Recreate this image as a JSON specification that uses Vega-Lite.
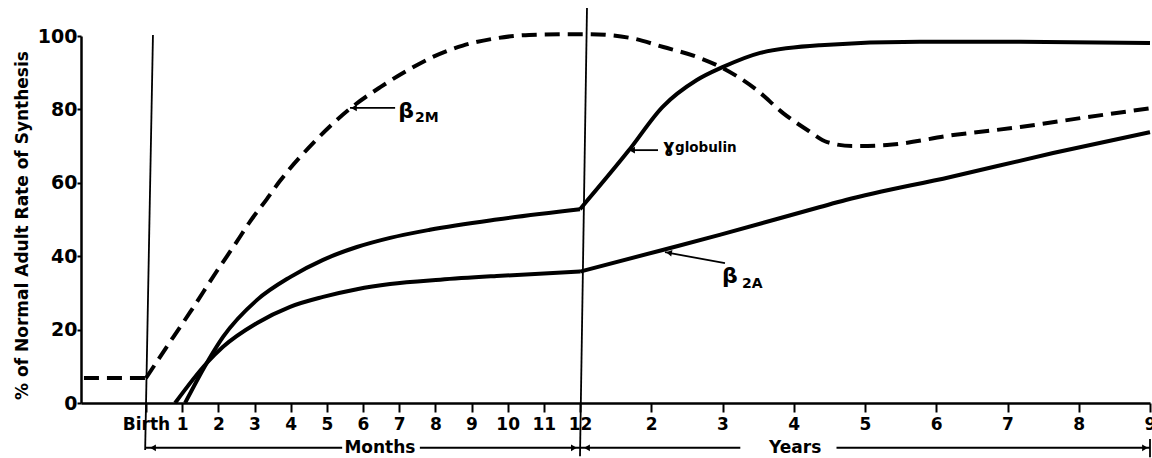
{
  "$schema": "https://vega.github.io/schema/vega-lite/v6.json",
  "width": 1071,
  "height": 367,
  "autosize": "none",
  "padding": {"left": 81, "top": 36, "right": 0, "bottom": 55},
  "background": "white",
  "config": {"view": {"stroke": null}},
  "datasets": {
    "curves": [
      {"series": "β2M", "part": "prenatal", "age": -0.143, "pct": 6.8},
      {"series": "β2M", "part": "prenatal", "age": 0, "pct": 6.8},
      {"series": "β2M", "part": "postnatal", "age": 0, "pct": 6.8},
      {"series": "β2M", "part": "postnatal", "age": 0.0625, "pct": 17.9},
      {"series": "β2M", "part": "postnatal", "age": 0.102, "pct": 24.8},
      {"series": "β2M", "part": "postnatal", "age": 0.163, "pct": 35.9},
      {"series": "β2M", "part": "postnatal", "age": 0.21, "pct": 44.1},
      {"series": "β2M", "part": "postnatal", "age": 0.24, "pct": 49.5},
      {"series": "β2M", "part": "postnatal", "age": 0.278, "pct": 55.5},
      {"series": "β2M", "part": "postnatal", "age": 0.308, "pct": 60.4},
      {"series": "β2M", "part": "postnatal", "age": 0.385, "pct": 70.8},
      {"series": "β2M", "part": "postnatal", "age": 0.47, "pct": 80.2},
      {"series": "β2M", "part": "postnatal", "age": 0.539, "pct": 86.0},
      {"series": "β2M", "part": "postnatal", "age": 0.602, "pct": 90.6},
      {"series": "β2M", "part": "postnatal", "age": 0.661, "pct": 94.3},
      {"series": "β2M", "part": "postnatal", "age": 0.73, "pct": 97.4},
      {"series": "β2M", "part": "postnatal", "age": 0.808, "pct": 99.4},
      {"series": "β2M", "part": "postnatal", "age": 0.883, "pct": 100.3},
      {"series": "β2M", "part": "postnatal", "age": 0.975, "pct": 100.5},
      {"series": "β2M", "part": "postnatal", "age": 1.1, "pct": 100.5},
      {"series": "β2M", "part": "postnatal", "age": 1.7, "pct": 99.5},
      {"series": "β2M", "part": "postnatal", "age": 2.17, "pct": 97},
      {"series": "β2M", "part": "postnatal", "age": 2.64, "pct": 94.3},
      {"series": "β2M", "part": "postnatal", "age": 3.0, "pct": 91.3},
      {"series": "β2M", "part": "postnatal", "age": 3.48, "pct": 85.3},
      {"series": "β2M", "part": "postnatal", "age": 3.85, "pct": 79},
      {"series": "β2M", "part": "postnatal", "age": 4.19, "pct": 74.4},
      {"series": "β2M", "part": "postnatal", "age": 4.47, "pct": 71.1},
      {"series": "β2M", "part": "postnatal", "age": 4.83, "pct": 70.0},
      {"series": "β2M", "part": "postnatal", "age": 5.31, "pct": 70.3},
      {"series": "β2M", "part": "postnatal", "age": 6.24, "pct": 73},
      {"series": "β2M", "part": "postnatal", "age": 7.18, "pct": 75.2},
      {"series": "β2M", "part": "postnatal", "age": 8.12, "pct": 77.9},
      {"series": "β2M", "part": "postnatal", "age": 9.0, "pct": 80.3},

      {"series": "γ globulin", "part": "first year", "age": 0.09, "pct": 0},
      {"series": "γ globulin", "part": "first year", "age": 0.14, "pct": 10.9},
      {"series": "γ globulin", "part": "first year", "age": 0.1775, "pct": 18},
      {"series": "γ globulin", "part": "first year", "age": 0.256, "pct": 28.1},
      {"series": "γ globulin", "part": "first year", "age": 0.332, "pct": 34.3},
      {"series": "γ globulin", "part": "first year", "age": 0.408, "pct": 39},
      {"series": "γ globulin", "part": "first year", "age": 0.486, "pct": 42.5},
      {"series": "γ globulin", "part": "first year", "age": 0.5625, "pct": 45.0},
      {"series": "γ globulin", "part": "first year", "age": 0.654, "pct": 47.2},
      {"series": "γ globulin", "part": "first year", "age": 0.808, "pct": 50.0},
      {"series": "γ globulin", "part": "first year", "age": 1.0, "pct": 52.8},
      {"series": "γ globulin", "part": "later", "age": 1.0, "pct": 52.8},
      {"series": "γ globulin", "part": "later", "age": 1.68, "pct": 68.7},
      {"series": "γ globulin", "part": "later", "age": 2.16, "pct": 80.7},
      {"series": "γ globulin", "part": "later", "age": 2.64, "pct": 88},
      {"series": "γ globulin", "part": "later", "age": 3.0, "pct": 91.5},
      {"series": "γ globulin", "part": "later", "age": 3.53, "pct": 95.4},
      {"series": "γ globulin", "part": "later", "age": 4.37, "pct": 97.5},
      {"series": "γ globulin", "part": "later", "age": 5.77, "pct": 98.4},
      {"series": "γ globulin", "part": "later", "age": 7.18, "pct": 98.4},
      {"series": "γ globulin", "part": "later", "age": 9.0, "pct": 98.1},

      {"series": "β2A", "part": "first year", "age": 0.067, "pct": 0},
      {"series": "β2A", "part": "first year", "age": 0.14, "pct": 10.9},
      {"series": "β2A", "part": "first year", "age": 0.1775, "pct": 15.3},
      {"series": "β2A", "part": "first year", "age": 0.256, "pct": 21.8},
      {"series": "β2A", "part": "first year", "age": 0.332, "pct": 26.2},
      {"series": "β2A", "part": "first year", "age": 0.408, "pct": 28.9},
      {"series": "β2A", "part": "first year", "age": 0.486, "pct": 31},
      {"series": "β2A", "part": "first year", "age": 0.5625, "pct": 32.4},
      {"series": "β2A", "part": "first year", "age": 0.678, "pct": 33.6},
      {"series": "β2A", "part": "first year", "age": 0.808, "pct": 34.6},
      {"series": "β2A", "part": "first year", "age": 1.0, "pct": 35.8},
      {"series": "β2A", "part": "later", "age": 1.0, "pct": 35.8},
      {"series": "β2A", "part": "later", "age": 2.16, "pct": 41.7},
      {"series": "β2A", "part": "later", "age": 2.96, "pct": 45.8},
      {"series": "β2A", "part": "later", "age": 4.37, "pct": 53.4},
      {"series": "β2A", "part": "later", "age": 4.73, "pct": 55.3},
      {"series": "β2A", "part": "later", "age": 6.2, "pct": 61.6},
      {"series": "β2A", "part": "later", "age": 7.64, "pct": 68.1},
      {"series": "β2A", "part": "later", "age": 9.0, "pct": 73.8}
    ],
    "rules": [
      {"what": "birth line", "x": -0.002, "x2": 0.016, "y": -12.8, "y2": 100.3},
      {"what": "one year line", "x": 1.0, "x2": 1.098, "y": -14.5, "y2": 107.6},
      {"what": "months arrow left", "x": 0.0, "x2": 0.452, "y": -12.2, "y2": -12.2},
      {"what": "months arrow right", "x": 0.631, "x2": 1.0, "y": -12.2, "y2": -12.2},
      {"what": "years arrow left", "x": 1.0, "x2": 3.25, "y": -12.2, "y2": -12.2},
      {"what": "years arrow right", "x": 4.6, "x2": 9.0, "y": -12.2, "y2": -12.2},
      {"what": "years end bar", "x": 9.0, "x2": 9.0, "y": -9.8, "y2": -14.8},
      {"what": "β2M pointer", "x": 0.47, "x2": 0.574, "y": 80.4, "y2": 80.4},
      {"what": "γ pointer", "x": 1.674, "x2": 2.095, "y": 68.9, "y2": 68.9},
      {"what": "β2A pointer", "x": 2.193, "x2": 3.035, "y": 41.1, "y2": 38.1}
    ],
    "headsLeft": [
      {"x": 0.0161, "y": -12.2},
      {"x": 1.098, "y": -12.2},
      {"x": 0.479, "y": 80.4},
      {"x": 1.73, "y": 68.9}
    ],
    "headsRight": [
      {"x": 0.986, "y": -12.2},
      {"x": 8.93, "y": -12.2}
    ],
    "headB2A": [
      {"x": 2.249, "y": 40.95}
    ],
    "betas": [
      {"x": 0.581, "y": 79.6, "t": "β"},
      {"x": 2.993, "y": 34.6, "t": "β"}
    ],
    "subs": [
      {"x": 0.62, "y": 77.6, "t": "2M"},
      {"x": 3.274, "y": 32.5, "t": "2A"}
    ],
    "gammaSym": [
      {"x": 2.165, "y": 69.8, "t": "ɣ"}
    ],
    "gammaWord": [
      {"x": 2.333, "y": 69.4, "t": "globulin"}
    ],
    "spans": [
      {"x": 0.539, "y": -12.3, "t": "Months"},
      {"x": 4.02, "y": -12.3, "t": "Years"}
    ]
  },
  "encoding": {
    "x": {
      "field": "x",
      "type": "quantitative",
      "scale": {"type": "linear", "domain": [-0.1498, 1, 9], "range": [0, 499, 1069], "nice": false, "zero": false},
      "axis": {
        "title": null,
        "grid": false,
        "values": [0, 0.083333, 0.166667, 0.25, 0.333333, 0.416667, 0.5, 0.583333, 0.666667, 0.75, 0.833333, 0.916667, 1, 2, 3, 4, 5, 6, 7, 8, 9],
        "labelExpr": "datum.value < 0.01 ? 'Birth' : (datum.value <= 1.001 ? format(datum.value * 12, '.0f') : format(datum.value, '.0f'))",
        "labelFlush": false,
        "labelOverlap": false,
        "labelFont": "DejaVu Sans",
        "labelFontWeight": "bold",
        "labelFontSize": 17,
        "labelColor": "black",
        "labelPadding": 4,
        "tickSize": 9,
        "tickWidth": 2,
        "tickColor": "black",
        "domainColor": "black",
        "domainWidth": 2.5
      }
    },
    "y": {
      "field": "y",
      "type": "quantitative",
      "scale": {"domain": [0, 100], "nice": false, "zero": false},
      "axis": {
        "title": "% of Normal Adult Rate of Synthesis",
        "grid": false,
        "values": [0, 20, 40, 60, 80, 100],
        "labelFont": "DejaVu Sans",
        "labelFontWeight": "bold",
        "labelFontSize": 19,
        "labelColor": "black",
        "labelPadding": 0,
        "tickSize": 4,
        "tickWidth": 2,
        "tickColor": "black",
        "domainColor": "black",
        "domainWidth": 2.5,
        "titleFont": "DejaVu Sans",
        "titleFontWeight": "bold",
        "titleFontSize": 17,
        "titleColor": "black",
        "titleAngle": -90,
        "titleAlign": "center",
        "titleBaseline": "middle",
        "titleX": -59,
        "titleY": 189
      }
    }
  },
  "layer": [
    {
      "data": {"name": "curves"},
      "transform": [{"filter": "datum.series == 'β2M'"}],
      "mark": {"type": "line", "interpolate": "monotone", "color": "black", "strokeWidth": 4, "strokeDash": [15, 8], "strokeCap": "butt"},
      "encoding": {
        "x": {"field": "age", "type": "quantitative"},
        "y": {"field": "pct", "type": "quantitative"},
        "detail": {"field": "part"},
        "order": {"field": "age", "type": "quantitative"}
      }
    },
    {
      "data": {"name": "curves"},
      "transform": [{"filter": "datum.series != 'β2M'"}],
      "mark": {"type": "line", "interpolate": "monotone", "color": "black", "strokeWidth": 4},
      "encoding": {
        "x": {"field": "age", "type": "quantitative"},
        "y": {"field": "pct", "type": "quantitative"},
        "detail": [{"field": "series"}, {"field": "part"}],
        "order": {"field": "age", "type": "quantitative"}
      }
    },
    {
      "data": {"name": "rules"},
      "mark": {"type": "rule", "color": "black", "strokeWidth": 1.8},
      "encoding": {
        "x2": {"field": "x2"},
        "y2": {"field": "y2"}
      }
    },
    {
      "data": {"name": "headsLeft"},
      "mark": {"type": "point", "shape": "triangle-left", "filled": true, "color": "black", "size": 45, "opacity": 1, "strokeWidth": 0}
    },
    {
      "data": {"name": "headsRight"},
      "mark": {"type": "point", "shape": "triangle-right", "filled": true, "color": "black", "size": 45, "opacity": 1, "strokeWidth": 0}
    },
    {
      "data": {"name": "headB2A"},
      "mark": {"type": "point", "shape": "triangle-left", "angle": 10.4, "filled": true, "color": "black", "size": 45, "opacity": 1, "strokeWidth": 0}
    },
    {
      "data": {"name": "betas"},
      "mark": {"type": "text", "align": "left", "baseline": "middle", "font": "DejaVu Sans", "fontWeight": "bold", "fontSize": 22, "color": "black"},
      "encoding": {"text": {"field": "t"}}
    },
    {
      "data": {"name": "subs"},
      "mark": {"type": "text", "align": "left", "baseline": "middle", "font": "DejaVu Sans", "fontWeight": "bold", "fontSize": 14, "color": "black"},
      "encoding": {"text": {"field": "t"}}
    },
    {
      "data": {"name": "gammaSym"},
      "mark": {"type": "text", "align": "left", "baseline": "middle", "font": "DejaVu Sans", "fontWeight": "bold", "fontSize": 18, "color": "black"},
      "encoding": {"text": {"field": "t"}}
    },
    {
      "data": {"name": "gammaWord"},
      "mark": {"type": "text", "align": "left", "baseline": "middle", "font": "DejaVu Sans", "fontWeight": "bold", "fontSize": 13.5, "color": "black"},
      "encoding": {"text": {"field": "t"}}
    },
    {
      "data": {"name": "spans"},
      "mark": {"type": "text", "align": "center", "baseline": "middle", "font": "DejaVu Sans", "fontWeight": "bold", "fontSize": 17, "color": "black"},
      "encoding": {"text": {"field": "t"}}
    }
  ]
}
